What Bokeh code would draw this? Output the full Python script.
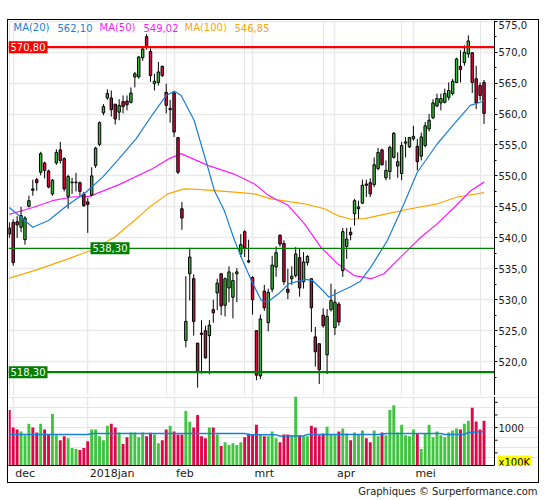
from bokeh.plotting import figure
from bokeh.models import (ColumnDataSource, FixedTicker, CustomJSTickFormatter,
                          Span, Label, Grid, Range1d, Spacer, LinearAxis, BoxAnnotation)
from bokeh.layouts import column, row
from bokeh.embed import file_html
from bokeh.resources import INLINE

# ---------------- data ----------------
opens = [541.6, 542.5, 542.6, 541.7, 539.7, 545.1, 547.9, 549.4, 550.6, 552.1,
         550.8, 547.1, 552.1, 554.2, 552.8, 546.7, 548.9, 548.9, 548.9, 547.1,
         545.8, 546.9, 551.7, 555.1, 560.2, 562.6, 562.6, 561.6, 560.3, 562.0,
         562.1, 561.9, 566.0, 566.0, 569.1, 572.5, 570.1, 564.9, 565.1, 567.7,
         563.5, 560.7, 563.4, 556.2, 544.7, 523.4, 534.2, 533.4, 523.0, 524.6,
         525.0, 524.2, 528.4, 531.1, 534.2, 529.1, 531.9, 530.4, 534.2, 537.4,
         541.0, 536.3, 533.6, 525.0, 517.7, 531.4, 526.3, 531.7, 535.3, 540.4,
         539.1, 531.7, 533.4, 533.9, 536.8, 532.9, 536.0, 533.4, 524.0, 522.9,
         527.5, 521.1, 528.4, 525.5, 529.3, 534.7, 538.6, 540.9, 543.9, 544.7,
         545.6, 548.7, 548.9, 548.6, 551.2, 554.2, 549.7, 550.7, 553.0, 551.6,
         550.4, 555.3, 554.7, 556.0, 554.8, 553.2, 554.9, 557.6, 559.4, 561.3,
         561.8, 561.9, 562.7, 563.3, 565.1, 567.7, 568.3, 569.7, 569.9, 565.7,
         564.6, 565.1]
highs = [542.5, 543.0, 543.5, 545.0, 543.5, 546.8, 549.4, 549.7, 553.9, 552.3,
         551.0, 549.5, 554.3, 555.5, 553.0, 550.2, 549.7, 550.5, 549.1, 547.4,
         546.4, 551.4, 554.7, 558.8, 561.6, 564.0, 563.8, 561.6, 562.4, 563.0,
         563.0, 564.3, 566.8, 569.4, 570.8, 572.9, 570.6, 566.5, 568.4, 567.8,
         564.9, 562.3, 563.6, 556.3, 545.8, 533.8, 538.4, 534.1, 523.0, 526.7,
         525.8, 526.7, 530.0, 533.4, 534.2, 533.6, 535.4, 534.4, 535.1, 540.6,
         541.2, 539.7, 533.8, 525.0, 527.6, 532.4, 531.8, 537.1, 538.6, 540.6,
         539.6, 535.0, 535.4, 538.5, 538.3, 537.7, 537.2, 533.4, 525.6, 522.9,
         528.6, 528.5, 532.6, 531.7, 529.6, 541.6, 541.6, 541.7, 546.3, 546.0,
         549.4, 549.4, 549.6, 553.0, 554.5, 554.4, 552.5, 554.9, 557.1, 553.8,
         555.5, 556.3, 556.3, 558.1, 556.0, 557.0, 558.7, 560.0, 562.4, 563.3,
         563.3, 564.1, 565.1, 565.7, 569.1, 570.3, 571.1, 572.7, 570.0, 567.8,
         565.1, 565.5]
lows = [540.0, 535.5, 540.0, 540.9, 538.9, 544.9, 546.8, 547.6, 550.1, 549.6,
        548.0, 546.8, 551.8, 552.0, 547.5, 544.7, 547.1, 547.5, 546.8, 545.0,
        540.8, 546.7, 551.3, 554.8, 559.8, 562.3, 559.6, 558.3, 559.0, 560.1,
        560.6, 561.7, 564.3, 565.7, 568.6, 570.4, 565.2, 563.8, 564.6, 566.0,
        560.1, 558.6, 556.3, 550.3, 541.3, 522.3, 529.9, 524.2, 515.8, 518.1,
        520.5, 518.0, 526.3, 528.3, 527.5, 527.3, 529.6, 527.0, 529.6, 536.9,
        536.9, 535.9, 527.6, 517.0, 517.2, 528.2, 524.9, 531.2, 533.7, 538.6,
        532.4, 530.1, 532.4, 533.6, 530.5, 531.8, 535.5, 524.8, 519.2, 516.4,
        525.5, 518.0, 528.1, 524.3, 525.8, 533.7, 536.6, 539.6, 542.0, 543.1,
        545.5, 546.6, 546.6, 548.2, 550.9, 551.7, 549.3, 549.4, 552.8, 549.7,
        549.3, 553.0, 554.5, 555.7, 550.9, 552.5, 554.6, 557.2, 559.2, 561.1,
        560.6, 561.7, 562.2, 563.0, 565.0, 565.1, 567.8, 569.1, 563.4, 560.8,
        562.2, 558.4]
closes = [540.6, 536.0, 542.1, 543.6, 543.2, 546.0, 547.7, 548.9, 553.6, 550.9,
          548.2, 549.3, 553.8, 552.5, 547.9, 549.9, 549.0, 549.0, 547.5, 545.2,
          545.4, 550.0, 554.5, 558.6, 561.2, 563.3, 560.7, 559.2, 561.4, 561.2,
          561.5, 563.4, 566.5, 569.2, 570.5, 570.8, 566.2, 565.3, 566.8, 566.2,
          561.4, 560.9, 557.1, 550.6, 543.2, 526.5, 536.9, 526.5, 518.3, 524.4,
          520.6, 525.9, 527.9, 532.7, 529.0, 533.4, 534.5, 533.1, 534.5, 538.9,
          538.4, 536.1, 530.0, 517.8, 526.9, 528.7, 531.2, 535.6, 537.6, 539.0,
          532.9, 531.2, 533.8, 537.4, 531.9, 536.1, 537.0, 528.7, 521.6, 518.7,
          525.8, 527.3, 529.9, 529.6, 526.4, 541.0, 539.8, 540.5, 546.0, 545.0,
          548.5, 548.5, 547.1, 551.8, 553.8, 551.8, 550.9, 554.6, 556.9, 552.3,
          554.9, 555.5, 556.2, 556.4, 552.3, 556.3, 558.1, 559.0, 561.8, 562.5,
          562.5, 563.3, 563.8, 565.3, 568.9, 567.2, 570.0, 571.8, 565.1, 561.8,
          563.0, 560.1]
volumes = [1346, 1000, 962, 923, 846, 1077, 1000, 904, 1077, 962,
           872, 1269, 846, 750, 827, 788, 596, 577, 558, 596,
           731, 962, 962, 827, 750, 1038, 1077, 1000, 904, 673,
           808, 904, 904, 808, 904, 827, 900, 865, 692, 750,
           962, 1038, 923, 865, 865, 1327, 1115, 1000, 1250, 827,
           788, 1000, 1000, 865, 635, 712, 654, 692, 654, 712,
           808, 885, 865, 1058, 865, 827, 827, 923, 788, 712,
           865, 865, 846, 1620, 846, 827, 827, 1038, 1000, 846,
           885, 1019, 865, 865, 923, 981, 885, 750, 904, 865,
           942, 788, 712, 942, 827, 904, 846, 1346, 1442, 904,
           1058, 846, 827, 962, 885, 577, 885, 1058, 808, 923,
           846, 808, 904, 942, 981, 962, 1077, 1135, 1391, 1122,
           962, 1135]

# moving averages (bar index, value)
ma20_idx = [0, 6, 10, 14.5, 19.6, 23.8, 28, 32.3, 36.6, 40, 42.1, 43.8, 47.1, 50.6,
            52.3, 54.8, 57.4, 59.5, 61.7, 64.2, 65.8, 68.7, 71.3, 75.6, 77.3, 79.9,
            81.5, 84, 87, 89.5, 92.2, 96.4, 100.6, 104, 109.1, 113.4, 117.5, 121]
ma20_val = [544.9, 541.7, 542.8, 545.1, 547.4, 549.8, 552.8, 556.0, 560.0, 563.0,
            563.7, 563.0, 559.0, 551.4, 547.6, 544.4, 539.6, 536.3, 533.1, 529.9,
            529.6, 531.0, 532.6, 533.3, 533.1, 531.5, 530.4, 531.2, 532.1, 533.0,
            535.3, 539.6, 545.5, 550.6, 555.2, 558.4, 561.4, 562.1]
ma50_idx = [0, 6, 11, 16, 20.4, 28, 36.6, 40.8, 43.8, 50.6, 57.3, 62.5, 66, 68, 71,
            75.2, 79.4, 83.7, 87.9, 92.2, 95.5, 100.6, 104.9, 109.1, 113.4, 117.6, 121]
ma50_val = [543.8, 544.9, 546.0, 546.6, 546.7, 548.6, 551.2, 552.8, 553.6, 551.7,
            550.3, 548.7, 546.9, 546.2, 545.3, 542.3, 538.5, 535.8, 533.9, 533.4,
            534.2, 537.4, 540.1, 542.3, 544.9, 547.6, 549.0]
ma100_idx = [0, 6.4, 15, 20.9, 26.8, 31.9, 36.2, 40.4, 44.6, 48.9, 57.4, 62.5, 66.7,
             75.2, 80.3, 83.7, 87.1, 90.5, 96.4, 102.3, 109.1, 114.2, 121]
ma100_val = [533.5, 534.7, 536.6, 538.0, 540.1, 542.8, 545.2, 547.1, 547.9, 547.8,
             547.4, 547.1, 546.3, 545.5, 544.7, 543.6, 543.0, 543.1, 543.9, 544.7,
             545.5, 546.6, 547.3]
volma_idx = [0, 20, 21, 60, 61, 68, 69, 75, 76, 95, 96, 110, 111, 116, 117, 121]
volma_val = [865, 865, 885, 885, 856, 856, 833, 833, 865, 865, 885, 885, 865, 865,
             905, 923]

ma_names = ["MA(20)", "MA(50)", "MA(100)"]
ma_last = [562.10, 549.02, 546.85]

levels = [570.80, 538.30, 518.30]

month_idx = [1, 20, 42, 62, 83, 103]
month_labels = ["dec", "2018jan", "feb", "mrt", "apr", "mei"]

price_ticks = [520, 525, 530, 535, 540, 545, 550, 555, 560, 565, 570, 575]
price_minor = [517.5, 522.5, 527.5, 532.5, 537.5, 542.5, 547.5, 552.5, 557.5,
               562.5, 567.5, 572.5]
vol_ticks = [500, 750, 1000, 1250, 1500]
vol_labelled = 1000
vol_unit = "x100K"
vol_unit_at = 317

# ---------------- styling / layout ----------------
FONT = "DejaVu Sans"
UP, DOWN = "#3BB83B", "#D4083E"
VUP, VDOWN = "#3FC53F", "#DA0A48"
BLUE, MAGENTA, ORANGE = "#1A7FD6", "#FF19FF", "#FFA500"
GRID = "#E9E9E9"
W = 530            # inner width of the boxed chart
RB = 44            # right axis strip
FW = W - RB        # bar area width (486 px)
X0, X1 = -0.2, 123.67          # bar area in bar-index units
PX = FW / (X1 - X0)            # px per bar
XR = X0 + W / PX               # frames span the whole inner width, axes sit at X1
P0, P1 = 514.53, 575.11
V0, V1 = 250, 1615
# pixel widths of the month labels (11px DejaVu Sans), used to left-align them
label_px = [19.8, 44.8, 17.6, 19.5, 18.2, 20.5]
label_pos = [m + (2 + w / 2) / PX for m, w in zip(month_idx, label_px)]

n = len(closes)
xs = list(range(n))
up = [c >= o for o, c in zip(opens, closes)]
src = ColumnDataSource(dict(
    x=xs, h=highs, l=lows,
    top=[max(o, c) for o, c in zip(opens, closes)],
    bot=[min(o, c) for o, c in zip(opens, closes)],
    color=[UP if u else DOWN for u in up],
    vol=volumes,
    vcolor=[VUP if u else VDOWN for u in up],
))

def fmt(val, d):
    return f"{val:.{d}f}".replace(".", ",")

def bare(fig):
    fig.axis.visible = False
    fig.grid.visible = False

xr = Range1d(X0, XR)

# ---------------- price panel ----------------
p = figure(width=W, height=375, x_range=xr, y_range=Range1d(P0, P1),
           x_axis_location=None, y_axis_location=None,
           toolbar_location=None, output_backend="svg",
           min_border_left=0, min_border_right=0, min_border_top=0,
           min_border_bottom=0, outline_line_color=None)
p.add_layout(Grid(dimension=1, ticker=FixedTicker(ticks=price_ticks),
                  grid_line_color=GRID, grid_line_width=1.5))
p.add_layout(Grid(dimension=0, ticker=FixedTicker(ticks=month_idx),
                  grid_line_color=GRID, grid_line_width=1.5))
p.add_layout(BoxAnnotation(left=X1, fill_color="white", fill_alpha=1,
                           line_color=None, level="underlay"))
pax = LinearAxis(fixed_location=X1,
                 ticker=FixedTicker(ticks=price_ticks, minor_ticks=price_minor),
                 formatter=CustomJSTickFormatter(code="return tick.toFixed(1).replace('.', ',');"),
                 axis_line_color="black", major_tick_out=3, major_tick_in=0,
                 minor_tick_out=2, minor_tick_in=0, major_label_standoff=1,
                 major_label_text_font=FONT, major_label_text_font_size="10px",
                 major_label_text_color="#1a1a1a")
p.add_layout(pax, "right")

p.line(ma100_idx, ma100_val, line_color=ORANGE, line_width=1.2)
p.line(ma50_idx, ma50_val, line_color=MAGENTA, line_width=1.2)
p.segment(x0="x", y0="l", x1="x", y1="h", source=src, line_color="black", line_width=1)
p.vbar(x="x", width=0.62, top="top", bottom="bot", fill_color="color",
       line_color="black", line_width=1, source=src)
p.line(ma20_idx, ma20_val, line_color=BLUE, line_width=1.2)

level_colors = ["#FF0000", "#008000", "#008000"]
level_widths = [2.2, 1.3, 2.4]
level_label_sx = [0, 82, 0]
p.segment(x0=[X0] * len(levels), y0=levels, x1=[X1] * len(levels), y1=levels,
          line_color=level_colors, line_width=level_widths)
for lv, col, sx in zip(levels, level_colors, level_label_sx):
    p.add_layout(Label(x=sx, y=lv, x_units="screen", text=fmt(lv, 2),
                       text_color="white", text_font=FONT, text_font_size="10px",
                       text_baseline="middle", text_align="left",
                       background_fill_color=col, padding=2))

legend_colors = [BLUE, MAGENTA, ORANGE]
legend_sx = [(5, 49), (91, 135), (176, 226)]
for name, last, col, (sx1, sx2) in zip(ma_names, ma_last, legend_colors, legend_sx):
    p.add_layout(Label(x=sx1, y=573.93, x_units="screen", text=name, text_color=col,
                       text_font=FONT, text_font_size="10px", text_baseline="middle"))
    p.add_layout(Label(x=sx2, y=573.93, x_units="screen", text=fmt(last, 2),
                       text_color=col, text_font=FONT, text_font_size="10px",
                       text_baseline="middle"))

# ---------------- separator line ----------------
sep = figure(width=W, height=1, toolbar_location=None, output_backend="svg",
             min_border=0, outline_line_color=None, background_fill_color="black",
             border_fill_color="black", x_range=Range1d(0, 1), y_range=Range1d(0, 1))
bare(sep)

# ---------------- volume panel ----------------
v = figure(width=W, height=86, x_range=xr,
           y_range=Range1d(V0, V1), y_axis_location=None,
           toolbar_location=None, output_backend="svg",
           min_border_left=0, min_border_right=0, min_border_top=0,
           min_border_bottom=15, outline_line_color=None)
v.vbar(x="x", width=0.74, top="vol", bottom=V0, fill_color="vcolor",
       line_color=None, source=src)
v.line(volma_idx, volma_val, line_color=BLUE, line_width=1.5)
v.xaxis.ticker = FixedTicker(ticks=label_pos)
v.xaxis.bounds = (X0, X1)
v.xaxis.formatter = CustomJSTickFormatter(
    args=dict(pos=label_pos, names=month_labels),
    code="const k = pos.indexOf(tick); return k >= 0 ? names[k] : '';")
v.xaxis.major_tick_out = 0
v.xaxis.major_tick_in = 0
v.xaxis.minor_tick_out = 0
v.xaxis.minor_tick_in = 0
v.xaxis.major_label_standoff = 1
v.xaxis.axis_line_color = "black"
v.xaxis.major_label_text_font = FONT
v.xaxis.major_label_text_font_size = "11px"
v.xaxis.major_label_text_color = "#1a1a1a"
v.xgrid.ticker = FixedTicker(ticks=month_idx)
v.xgrid.grid_line_color = GRID
v.xgrid.grid_line_width = 1.5

# volume scale at the right edge of the bar area: line, ticks, label, unit
v.add_layout(Span(location=X1, dimension="height", line_color="black", line_width=1))
v.segment(x0=[X1] * len(vol_ticks), y0=vol_ticks,
          x1=[X1 + 3 / PX] * len(vol_ticks), y1=vol_ticks,
          line_color="black", line_width=1)
v.add_layout(Label(x=X1, y=vol_labelled, x_offset=4, text=str(vol_labelled),
                   text_color="#1a1a1a", text_font=FONT, text_font_size="10px",
                   text_baseline="middle"))
v.add_layout(Label(x=X1, y=vol_unit_at, x_offset=3, text=vol_unit,
                   text_color="black", text_font=FONT, text_font_size="10px",
                   text_baseline="middle", background_fill_color="#FFFF00",
                   padding=1))

# ---------------- footer ----------------
f = figure(width=W + 2, height=16, x_range=Range1d(0, 1), y_range=Range1d(0, 1),
           toolbar_location=None, output_backend="svg", min_border=0,
           outline_line_color=None)
bare(f)
f.add_layout(Label(x=1, y=0.5, x_offset=-2, text="Graphiques \u00a9 Surperformance.com",
                   text_align="right", text_baseline="middle", text_font=FONT,
                   text_font_size="10px", text_color="#222222"))

boxed = column(p, sep, v, styles={"border": "1px solid black"})
layout = column(Spacer(width=10, height=19),
                row(Spacer(width=7, height=10), boxed),
                row(Spacer(width=7, height=10), f))

open("out.html", "w").write(file_html(layout, INLINE))
